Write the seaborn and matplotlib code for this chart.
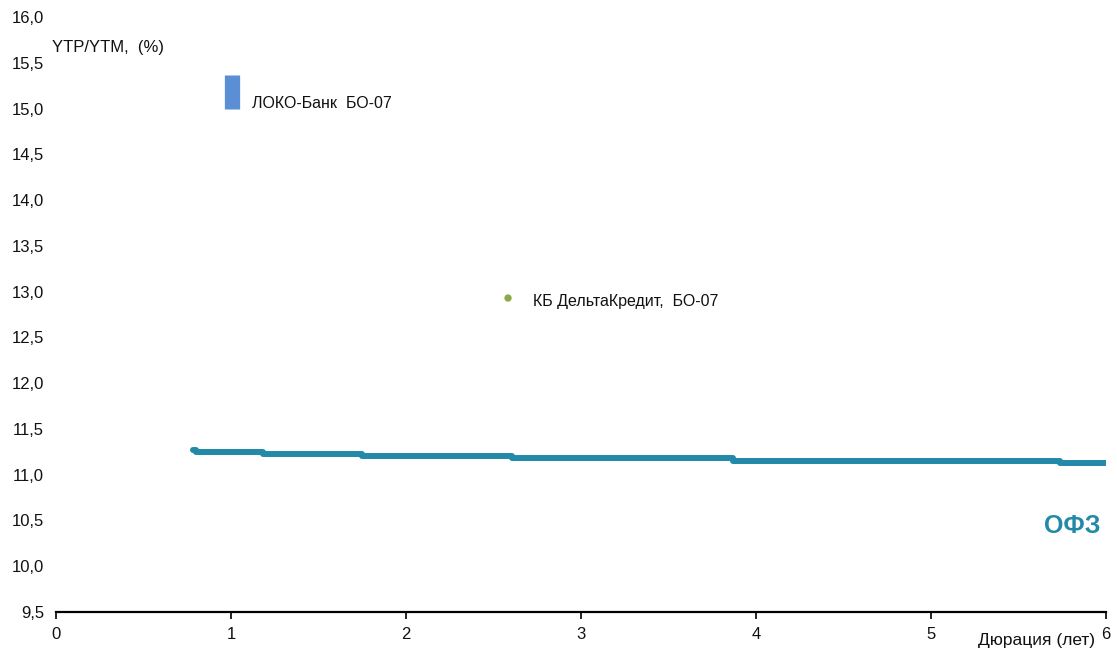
import matplotlib
matplotlib.use("Agg")
import matplotlib.pyplot as plt
import seaborn as sns
import pandas as pd

# ---- data ----
ofz_duration = [0.781, 0.80, 1.185, 1.747, 2.604, 3.870, 5.737, 6.0]
ofz_yield = [11.265, 11.251, 11.226, 11.204, 11.179, 11.153, 11.131, 11.131]

loko_duration = [1.003, 1.003]
loko_yield = [14.99, 15.37]
loko_label = "ЛОКО-Банк  БО-07"

delta_duration = [2.583]
delta_yield = [12.93]
delta_label = "КБ ДельтаКредит,  БО-07"

y_ticks = [9.5, 10.0, 10.5, 11.0, 11.5, 12.0, 12.5, 13.0, 13.5, 14.0, 14.5, 15.0, 15.5, 16.0]
x_ticks = [0, 1, 2, 3, 4, 5, 6]

sns.set_theme(style="white")
plt.rcParams["font.family"] = ["Liberation Sans", "DejaVu Sans"]

fig = plt.figure(figsize=(11.17, 6.5), dpi=100)
ax = fig.add_axes([56/1117, 38/650, 1050/1117, 595/650])

ofz_color = "#2389A8"
df = pd.DataFrame({"d": ofz_duration, "y": ofz_yield})
sns.lineplot(data=df, x="d", y="y", ax=ax, color=ofz_color, linewidth=4.3,
             drawstyle="steps-post", estimator=None, sort=False,
             solid_capstyle="round", solid_joinstyle="round")

ax.plot(loko_duration, loko_yield, color="#5B8FD5", linewidth=11,
        solid_capstyle="butt")
sns.scatterplot(x=delta_duration, y=delta_yield, ax=ax, color="#8DAA4A",
                s=28, edgecolor="none")

fs = 11.5
ax.text(1.12, 15.05, loko_label, fontsize=fs, va="center", ha="left", color="#111111")
ax.text(2.725, 12.89, delta_label, fontsize=fs, va="center", ha="left", color="#111111")
ax.text(-0.02, 15.67, "YTP/YTM,  (%)", fontsize=12, va="center", ha="left", color="#111111")
ax.text(5.97, 10.44, "ОФЗ", fontsize=18, fontweight="bold", va="center", ha="right",
        color=ofz_color)

ax.set_xlim(0, 6)
ax.set_ylim(9.5, 16.0)
ax.set_xticks(x_ticks)
ax.set_xticklabels([str(v) for v in x_ticks], fontsize=12)
ax.set_yticks(y_ticks)
ax.set_yticklabels([f"{v:.1f}".replace(".", ",") for v in y_ticks], fontsize=12)
ax.set_xlabel("")
ax.set_ylabel("")

for s in ["top", "right", "left"]:
    ax.spines[s].set_visible(False)
ax.spines["bottom"].set_color("black")
ax.spines["bottom"].set_linewidth(1.6)
ax.tick_params(axis="x", direction="out", length=5, width=1.2, color="black", pad=6,
               labelcolor="#111111", bottom=True)
ax.tick_params(axis="y", length=0, pad=8.5, labelcolor="#111111")
ax.grid(False)

fig.text(1095/1117, 1 - 640/650, "Дюрация (лет)", fontsize=12.5, ha="right", va="center",
         color="#111111")

fig.savefig("out.png", dpi=100)
